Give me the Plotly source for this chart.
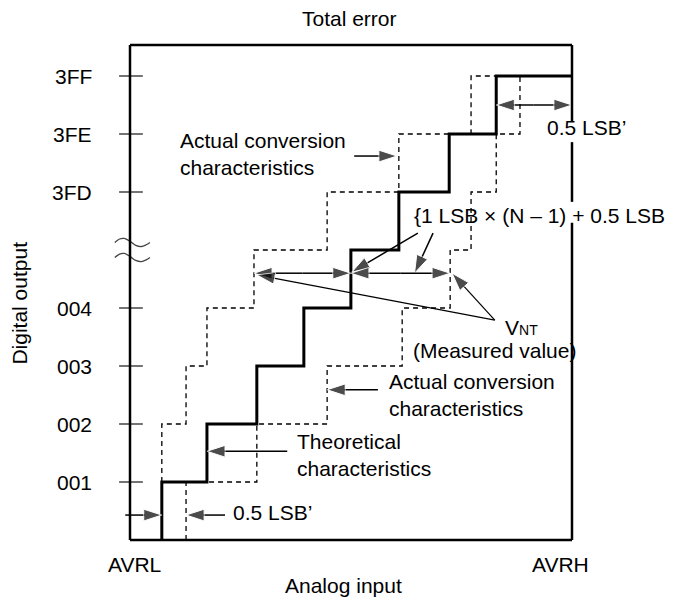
import plotly.graph_objects as go

# ---------------- data (x in LSB steps from AVRL, y in output-code steps) ----------------
theoretical_x = [0.67, 1.62, 2.67, 3.66, 4.65, 5.66, 6.72, 7.71]   # code transitions 0->1 ... 7->8
left_actual_x = [0.67, 1.18, 1.62, 2.61, 4.15, 5.66, 7.18]          # transitions 1->2 ... 7->8
left_actual_end = 7.71
right_actual_x = [1.18, 2.67, 4.15, 5.73, 6.74, 7.18, 7.71, 8.21]   # transitions 0->1 ... 7->8
x_full = 9.305          # AVRH
y_full = 8.534          # top of frame

tick_levels = [1, 2, 3, 4, 6, 7, 8]
tick_labels = ["001", "002", "003", "004", "3FD", "3FE", "3FF"]
break_level = 5

# arrows: (tail_x, tail_y, head_x, head_y, width)
arrows = [
    (4.72, 6.62, 5.62, 6.62, 1.5),
    (8.50, 7.50, 7.71, 7.50, 1.5), (8.50, 7.50, 9.305, 7.50, 1.5),
    (6.06, 5.29, 4.67, 4.62, 1.5), (6.38, 5.29, 5.99, 4.60, 1.5),
    (3.63, 4.60, 2.61, 4.60, 1.5), (3.63, 4.60, 4.65, 4.60, 1.5),
    (5.70, 4.60, 4.65, 4.60, 1.5), (5.70, 4.60, 6.74, 4.60, 1.5),
    (7.68, 3.79, 2.67, 4.57, 1.2), (7.68, 3.79, 6.78, 4.60, 1.2),
    (5.22, 2.59, 4.15, 2.59, 1.5),
    (3.31, 1.53, 1.62, 1.53, 1.5),
    (-0.10, 0.43, 0.67, 0.43, 1.5), (2.00, 0.43, 1.18, 0.43, 1.5),
]

# texts: (x, y, text, xanchor, align, angle)
texts = [
    (4.63, 9.00, "Total error", "center", "center", 0),
    (-2.32, 4.09, "Digital output", "center", "center", -90),
    (0.095, -0.43, "AVRL", "center", "center", 0),
    (9.07, -0.43, "AVRH", "center", "center", 0),
    (4.50, -0.79, "Analog input", "center", "center", 0),
    (1.01, 6.65, "Actual conversion<br>characteristics", "left", "left", 0),
    (5.94, 5.60, "{1 LSB × (N – 1) + 0.5 LSB}", "left", "left", 0),
    (7.85, 3.66, "V<span style='font-size:14px'>NT</span>", "left", "left", 0),
    (5.92, 3.26, "(Measured value)", "left", "left", 0),
    (5.41, 2.50, "Actual conversion<br>characteristics", "left", "left", 0),
    (3.47, 1.47, "Theoretical<br>characteristics", "left", "left", 0),
    (2.13, 0.48, "0.5 LSB’", "left", "left", 0),
]

FONT = "Liberation Sans, Arial, Helvetica, sans-serif"
FS = 21
PXX, PXY = 47.5, 58.0          # pixels per x step / y step
ORIGIN_X, ORIGIN_Y = 122, 532  # figure pixel position of (AVRL, code 0); page adds 8px body margin
W, H = 665, 592

fig = go.Figure()

# dashed actual characteristics
fig.add_trace(go.Scatter(x=left_actual_x + [left_actual_end], y=list(range(1, 9)),
                         mode="lines", line=dict(color="black", width=1.3, dash="5px,4px", shape="vh"),
                         hoverinfo="skip", showlegend=False))
fig.add_trace(go.Scatter(x=right_actual_x + [x_full], y=list(range(0, 9)),
                         mode="lines", line=dict(color="black", width=1.3, dash="5px,4px", shape="vh"),
                         hoverinfo="skip", showlegend=False))
# theoretical
fig.add_trace(go.Scatter(x=theoretical_x + [x_full], y=list(range(0, 9)),
                         mode="lines", line=dict(color="black", width=3, shape="vh"),
                         hoverinfo="skip", showlegend=False))

# tick marks
tx, ty = [], []
for lv in tick_levels:
    tx += [-0.23, 0.27, None]
    ty += [lv, lv, None]
fig.add_trace(go.Scatter(x=tx, y=ty, mode="lines", line=dict(color="#444", width=1.5),
                         hoverinfo="skip", showlegend=False))

# break marks
wave_dx = [-0.32, -0.22, -0.12, 0.0, 0.12, 0.24, 0.34, 0.42]
wave_dy = [0.00, 0.06, 0.07, 0.02, -0.05, -0.07, -0.04, 0.0]
for off in (0.13, -0.13):
    fig.add_trace(go.Scatter(x=wave_dx, y=[break_level + off + d for d in wave_dy], mode="lines",
                             line=dict(color="#444", width=1.3, shape="spline"),
                             hoverinfo="skip", showlegend=False))

# arrows
for (x0, y0, x1, y1, w) in arrows:
    fig.add_trace(go.Scatter(x=[x0, x1], y=[y0, y1], mode="lines+markers",
                             line=dict(color="black", width=w),
                             marker=dict(symbol="arrow", size=[0, 19], color="black", angleref="previous"),
                             hoverinfo="skip", showlegend=False, cliponaxis=False))

# frame
shapes = []
def seg(x0, y0, x1, y1, w=2.5):
    shapes.append(dict(type="line", xref="x", yref="y", x0=x0, y0=y0, x1=x1, y1=y1,
                       line=dict(color="black", width=w)))
seg(0, 0, x_full, 0)
seg(0, y_full, x_full, y_full)
seg(0, 0, 0, y_full)
seg(x_full, 0, x_full, 5.47)
seg(x_full, 5.83, x_full, 6.86)
seg(x_full, 7.21, x_full, y_full)

annotations = []
for (x, y, t, xa, al, ang) in texts:
    annotations.append(dict(x=x, y=y, xref="x", yref="y", text=t, showarrow=False,
                            xanchor=xa, yanchor="middle", align=al, textangle=ang,
                            font=dict(family=FONT, size=FS, color="black")))
annotations.append(dict(x=8.74, y=7.12, xref="x", yref="y", text="0.5 LSB’", showarrow=False,
                        xanchor="left", yanchor="middle",
                        font=dict(family=FONT, size=FS, color="black")))
for lv, lab in zip(tick_levels, tick_labels):
    annotations.append(dict(x=-0.76, y=lv, xref="x", yref="y", text=lab, showarrow=False,
                            xanchor="right", yanchor="middle",
                            font=dict(family=FONT, size=FS, color="black")))

fig.update_layout(
    width=W, height=H,
    margin=dict(l=0, r=0, t=0, b=0, pad=0, autoexpand=False),
    paper_bgcolor="white", plot_bgcolor="white",
    xaxis=dict(range=[-ORIGIN_X / PXX, (W - ORIGIN_X) / PXX], visible=False, fixedrange=True),
    yaxis=dict(range=[(ORIGIN_Y - H) / PXY, ORIGIN_Y / PXY], visible=False, fixedrange=True),
    shapes=shapes, annotations=annotations, showlegend=False,
)

fig.write_html("out.html")
